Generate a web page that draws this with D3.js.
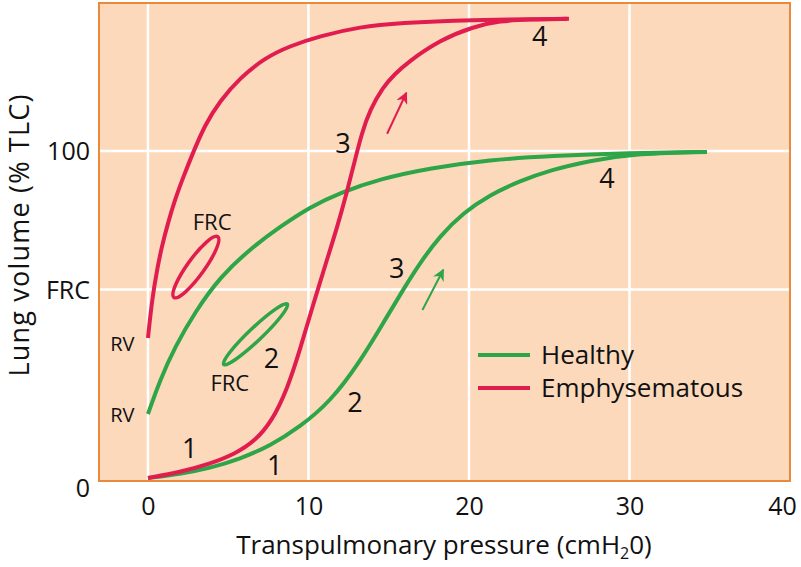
<!DOCTYPE html>
<html><head><meta charset="utf-8">
<script src="https://cdn.jsdelivr.net/npm/d3@7"></script>
<style>body{margin:0;background:#fff;} text{font-family:"Open Sans", Lato, sans-serif;fill:#111;}</style>
</head><body>
<svg id="c" width="801" height="567"></svg>
<script>
// ---- data ----
const xTicks = [0, 10, 20, 30, 40];
const yTicks = [0, 58, 100];
const yTickLabels = ["0", "FRC", "100"];
const seriesNames = ["Healthy", "Emphysematous"];
const healthyDeflation = [[0,20.3],[0.75,30.6],[1.68,40.6],[2.93,51.2],[4.49,61.8],[6.36,70.3],[8.22,77.0],[10.09,83.0],[11.96,87.3],[14.45,91.5],[17.57,94.8],[21.31,97.3],[25.05,98.5],[30.03,99.4],[34.83,99.7]];
const healthyInflation = [[0,0.9],[1.99,2.1],[3.86,3.9],[5.73,6.7],[7.60,10.6],[9.47,16.4],[11.34,23.9],[13.21,36.1],[14.77,48.8],[15.89,57.9],[16.95,66.1],[18.19,74.2],[19.63,81.2],[21.31,86.7],[23.18,90.9],[25.05,94.2],[27.54,97.0],[30.03,99.1],[34.83,99.7]];
const emphDeflation = [[0,43.3],[0.25,54.8],[0.56,63.9],[0.87,71.2],[1.25,78.2],[1.68,85.2],[2.18,91.8],[2.80,99.4],[3.55,107.9],[4.49,115.2],[5.73,122.1],[7.29,128.2],[8.85,131.8],[10.72,134.8],[13.21,137.6],[15.70,138.8],[19.88,139.7],[26.23,140.0]];
const emphInflation = [[0,0.9],[1.99,2.7],[3.86,5.2],[5.42,8.2],[6.67,12.1],[7.73,18.2],[8.66,27.6],[9.47,39.7],[10.28,53.3],[11.15,67.0],[11.78,76.7],[12.40,87.6],[12.90,97.3],[13.33,105.5],[13.83,112.4],[14.64,119.4],[15.39,123.3],[16.14,126.7],[18.19,133.6],[20.25,137.6],[21.93,139.4],[23.80,139.8],[26.11,140.0]];
// FRC loops: ends of the long axis [x, y]
const emphLoop = [[1.62, 55.6], [4.35, 74.0]];
const healthyLoop = [[4.72, 35.3], [8.68, 53.6]];
const emphArrow = [[14.9,105.2],[16.1,117.6]];
const healthyArrow = [[17.1,51.8],[18.4,64.0]];
const emphLabels = [["4",24.4,134.6],["3",12.15,102.4],["2",7.7,37.3],["1",2.6,10.0],["FRC",4.0,78.5],["RV",-1.6,41.5]];
const healthyLabels = [["4",28.6,91.8],["3",15.5,64.5],["2",12.9,23.9],["1",7.9,4.8],["FRC",5.1,29.7],["RV",-1.6,20.0]];

// ---- layout ----
const svg = d3.select("#c");
const L = 99, R = 790, T = 3, B = 481;
const x = d3.scaleLinear().domain([-3.05, 40]).range([L, R]);
const y = d3.scaleLinear().domain([0, 144.8]).range([B, T]);
const green = "#2ea548", red = "#e11d50";
const bg = "#fdd9bc", border = "#e8893e";

svg.append("rect").attr("x", L).attr("y", T).attr("width", R - L).attr("height", B - T)
  .attr("fill", bg);
// grid
svg.append("g").selectAll("line").data(xTicks.filter(d => d < 40)).join("line")
  .attr("x1", d => x(d)).attr("x2", d => x(d)).attr("y1", T).attr("y2", B)
  .attr("stroke", "#fff").attr("stroke-width", 2.5);
svg.append("g").selectAll("line").data(yTicks.filter(d => d > 0)).join("line")
  .attr("y1", d => y(d)).attr("y2", d => y(d)).attr("x1", L).attr("x2", R)
  .attr("stroke", "#fff").attr("stroke-width", 2.5);
svg.append("rect").attr("x", L).attr("y", T).attr("width", R - L).attr("height", B - T)
  .attr("fill", "none").attr("stroke", border).attr("stroke-width", 2);

// axes
const xAxis = d3.axisBottom(x).tickValues(xTicks).tickSize(0).tickPadding(0);
const gx = svg.append("g").attr("transform", `translate(0,${B})`).call(xAxis);
gx.select(".domain").remove();
gx.selectAll("text").attr("font-size", 25).attr("dy", null).attr("y", 34)
  .style("font-family", "Open Sans").attr("fill", "#111");
gx.selectAll(".tick").filter(d => d === 40).select("text").attr("x", -8);
const yAxis = d3.axisLeft(y).tickValues(yTicks).tickFormat((d, i) => yTickLabels[i]).tickSize(0).tickPadding(0);
const gy = svg.append("g").attr("transform", `translate(${L - 9},0)`).call(yAxis);
gy.select(".domain").remove();
gy.selectAll("text").attr("font-size", 25).attr("dy", "0.36em")
  .style("font-family", "Open Sans").attr("fill", "#111");
gy.selectAll(".tick").filter(d => d === 0).select("text").attr("dy", "0.62em");

// titles
const xt = svg.append("text").attr("x", 444).attr("y", 554).attr("text-anchor", "middle").attr("font-size", 26);
xt.append("tspan").text("Transpulmonary pressure (cmH");
xt.append("tspan").text("2").attr("font-size", 16).attr("dy", 5);
xt.append("tspan").text("0)").attr("dy", -5);
svg.append("text").attr("transform", "translate(29,235) rotate(-90)").attr("text-anchor", "middle")
  .attr("font-size", 27).attr("letter-spacing", 1.2).text("Lung volume (% TLC)");

// curves
const line = d3.line().x(d => x(d[0])).y(d => y(d[1])).curve(d3.curveBasis);
const curves = [[healthyDeflation, green], [healthyInflation, green], [emphDeflation, red], [emphInflation, red]];
svg.append("g").selectAll("path").data(curves).join("path")
  .attr("d", d => line(d[0])).attr("fill", "none").attr("stroke", d => d[1]).attr("stroke-width", 4);

// loops as thin ellipses between their long-axis ends
[[healthyLoop, green, 6.5], [emphLoop, red, 8.5]].forEach(([e, c, ry]) => {
  const x1 = x(e[0][0]), y1 = y(e[0][1]), x2 = x(e[1][0]), y2 = y(e[1][1]);
  const cx = (x1 + x2) / 2, cy = (y1 + y2) / 2;
  const rx = Math.hypot(x2 - x1, y2 - y1) / 2;
  const ang = Math.atan2(y2 - y1, x2 - x1) * 180 / Math.PI;
  svg.append("ellipse").attr("cx", 0).attr("cy", 0).attr("rx", rx).attr("ry", ry)
    .attr("transform", `translate(${cx},${cy}) rotate(${ang})`)
    .attr("fill", "none").attr("stroke", c).attr("stroke-width", 3.5);
});

// arrows
const defs = svg.append("defs");
[["ag", green], ["ar", red]].forEach(([id, c]) => {
  defs.append("marker").attr("id", id).attr("viewBox", "0 0 10 10").attr("refX", 9).attr("refY", 5)
    .attr("markerWidth", 6).attr("markerHeight", 6).attr("markerUnits", "strokeWidth").attr("orient", "auto")
    .append("path").attr("d", "M0,0 L10,5 L0,10 L3,5 Z").attr("fill", c);
});
[[healthyArrow, "ag", green], [emphArrow, "ar", red]].forEach(([a, id, c]) => {
  svg.append("line").attr("x1", x(a[0][0])).attr("y1", y(a[0][1])).attr("x2", x(a[1][0])).attr("y2", y(a[1][1]))
    .attr("stroke", c).attr("stroke-width", 2).attr("marker-end", `url(#${id})`);
});

// labels
svg.append("g").selectAll("text").data(emphLabels.concat(healthyLabels)).join("text")
  .attr("x", d => x(d[1])).attr("y", d => y(d[2])).attr("dy", "0.36em").attr("text-anchor", "middle")
  .attr("font-size", d => d[0] === "RV" ? 20 : d[0] === "FRC" ? 22 : 27).text(d => d[0]);

// legend
const lg = svg.append("g");
seriesNames.forEach((n, i) => {
  const yy = 355 + i * 33;
  lg.append("line").attr("x1", 478).attr("x2", 530).attr("y1", yy).attr("y2", yy)
    .attr("stroke", i === 0 ? green : red).attr("stroke-width", 4);
  lg.append("text").attr("x", 541).attr("y", yy).attr("dy", "0.36em").attr("font-size", 26).text(n);
});
</script>
</body></html>
